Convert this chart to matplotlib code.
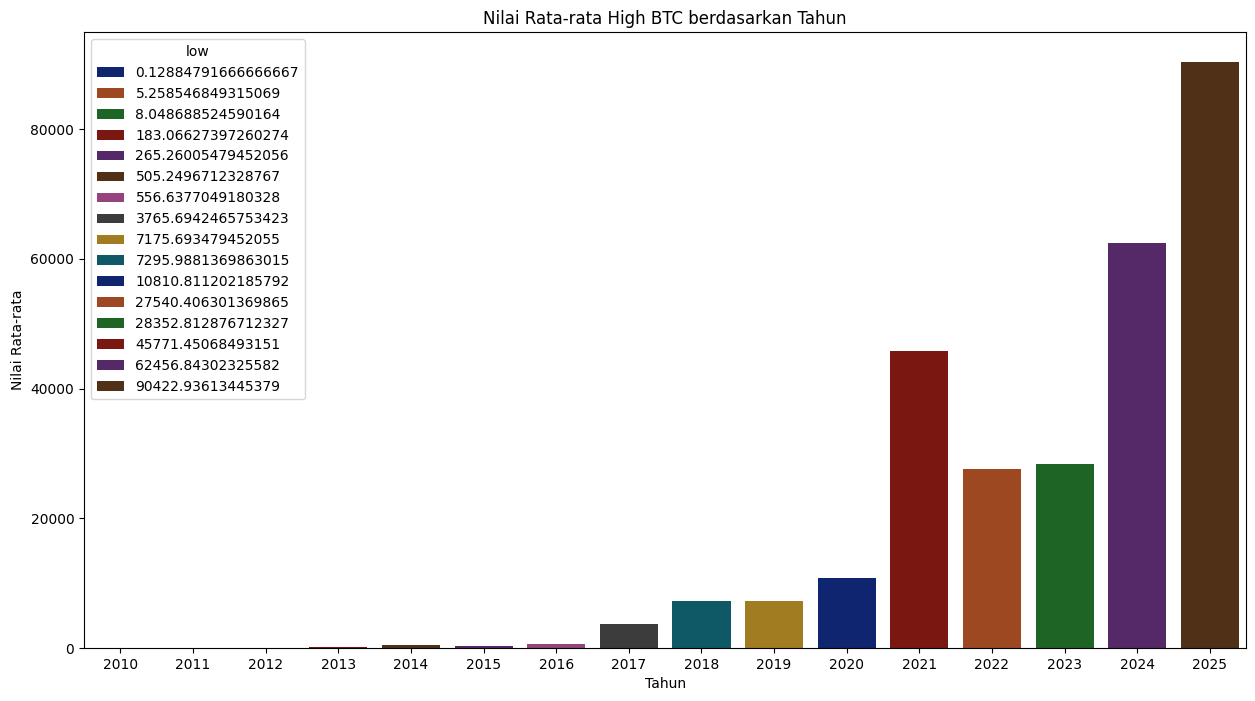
import matplotlib
matplotlib.use('Agg')
import matplotlib.pyplot as plt
import seaborn as sns
import pandas as pd

years = [2010, 2011, 2012, 2013, 2014, 2015, 2016, 2017,
         2018, 2019, 2020, 2021, 2022, 2023, 2024, 2025]
low_mean = [0.12884791666666667, 5.258546849315069, 8.048688524590164,
            183.06627397260274, 505.2496712328767, 265.26005479452056,
            556.6377049180328, 3765.6942465753423, 7295.9881369863015,
            7175.693479452055, 10810.811202185792, 45771.45068493151,
            27540.406301369865, 28352.812876712327, 62456.84302325582,
            90422.93613445379]

df = pd.DataFrame({'year': years, 'low': low_mean})
df['low_label'] = df['low'].map(str)
hue_order = [str(v) for v in sorted(low_mean)]

fig, ax = plt.subplots(figsize=(12.55, 7.01), dpi=100)
fig.subplots_adjust(left=0.067, right=0.993, top=0.954, bottom=0.0756)

sns.barplot(data=df, x='year', y='low', hue='low_label', hue_order=hue_order,
            palette='dark', dodge=False, ax=ax)

ax.set_title('Nilai Rata-rata High BTC berdasarkan Tahun')
ax.set_xlabel('Tahun')
ax.set_ylabel('Nilai Rata-rata')
ax.legend(title='low', loc='upper left')

fig.savefig('out.png')
